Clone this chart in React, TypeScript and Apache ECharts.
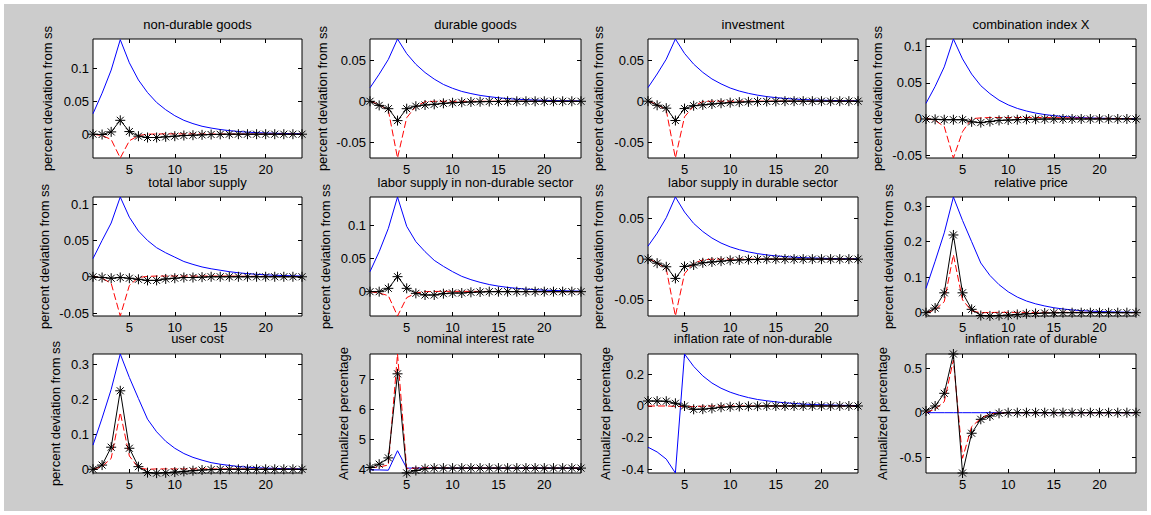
import React, { useEffect, useRef } from "react";
import * as echarts from "echarts";

// ---------- data ----------
const periods = [1, 2, 3, 4, 5, 6, 7, 8, 9, 10, 11, 12, 13, 14, 15, 16, 17, 18, 19, 20, 21, 22, 23, 24];
const xTicks = [5, 10, 15, 20];

const titles = [
  "non-durable goods", "durable goods", "investment", "combination index X",
  "total labor supply", "labor supply in non-durable sector", "labor supply in durable sector", "relative price",
  "user cost", "nominal interest rate", "inflation rate of non-durable", "inflation rate of durable",
];
const yLabels = [
  "percent deviation from ss", "percent deviation from ss", "percent deviation from ss", "percent deviation from ss",
  "percent deviation from ss", "percent deviation from ss", "percent deviation from ss", "percent deviation from ss",
  "percent deviation from ss", "Annualized percentage", "Annualized percentage", "Annualized percentage",
];
const yMins = [-0.036, -0.069, -0.069, -0.0539, -0.054, -0.0365, -0.07, -0.0093, -0.0106, 3.877, -0.4227, -0.675];
const yMaxs = [0.144, 0.0758, 0.0755, 0.1105, 0.1098, 0.142, 0.0765, 0.326, 0.329, 7.84, 0.328, 0.657];
const yTicks = [
  [0, 0.05, 0.1], [-0.05, 0, 0.05], [-0.05, 0, 0.05], [-0.05, 0, 0.05, 0.1],
  [-0.05, 0, 0.05, 0.1], [0, 0.05, 0.1], [-0.05, 0, 0.05], [0, 0.1, 0.2, 0.3],
  [0, 0.1, 0.2, 0.3], [4, 5, 6, 7], [-0.4, -0.2, 0, 0.2], [-0.5, 0, 0.5],
];

// non-durable goods
const nonDurBlue = [0.031, 0.062, 0.097, 0.143, 0.108, 0.082, 0.063, 0.048, 0.037, 0.028, 0.021, 0.016, 0.012, 0.0093, 0.0071, 0.0054, 0.0041, 0.0031, 0.0024, 0.0018, 0.0014, 0.0011, 0.0008, 0.0006];
const nonDurRed = [0, -0.002, -0.008, -0.036, -0.01, -0.002, 0, 0.0003, 0.0005, 0.0005, 0.0005, 0.0005, 0.0004, 0.0003, 0.0003, 0.0002, 0.0002, 0.0001, 0.0001, 0.0001, 0, 0, 0, 0];
const nonDurBlack = [0, -0.0005, 0.0035, 0.021, 0.004, -0.003, -0.005, -0.005, -0.004, -0.003, -0.002, -0.0015, -0.001, -0.0005, -0.0002, 0, 0, 0, 0, 0, 0, 0, 0, 0];
// durable goods
const durBlue = [0.0164, 0.033, 0.051, 0.0758, 0.058, 0.045, 0.035, 0.027, 0.0205, 0.0158, 0.012, 0.0094, 0.0072, 0.0056, 0.0043, 0.0033, 0.0025, 0.002, 0.0015, 0.0012, 0.0009, 0.0007, 0.0005, 0.0004];
const durRed = [0, -0.004, -0.011, -0.069, -0.02, -0.006, -0.0005, 0, 0, 0, 0, 0, 0, 0, 0, 0, 0, 0, 0, 0, 0, 0, 0, 0];
const durBlack = [0, -0.005, -0.009, -0.0235, -0.009, -0.006, -0.0045, -0.0037, -0.0025, -0.0018, -0.0012, -0.0008, -0.0005, -0.0003, -0.0002, 0, 0, 0, 0, 0, 0, 0, 0, 0];
// investment
const invBlue = [0.0165, 0.033, 0.051, 0.0755, 0.058, 0.045, 0.035, 0.027, 0.021, 0.016, 0.0123, 0.0095, 0.0073, 0.0056, 0.0043, 0.0033, 0.0026, 0.002, 0.0015, 0.0012, 0.0009, 0.0007, 0.0005, 0.0004];
const invRed = [0, -0.004, -0.011, -0.069, -0.019, -0.006, -0.0005, 0, 0, 0, 0, 0, 0, 0, 0, 0, 0, 0, 0, 0, 0, 0, 0, 0];
const invBlack = [0, -0.005, -0.0085, -0.0235, -0.009, -0.0055, -0.0045, -0.0035, -0.0025, -0.0018, -0.0012, -0.0008, -0.0005, -0.0003, -0.0002, 0, 0, 0, 0, 0, 0, 0, 0, 0];
// combination index X
const combBlue = [0.0216, 0.045, 0.072, 0.1105, 0.083, 0.062, 0.046, 0.035, 0.026, 0.0195, 0.0146, 0.011, 0.0082, 0.0061, 0.0046, 0.0034, 0.0026, 0.0019, 0.0014, 0.0011, 0.0008, 0.0006, 0.0005, 0.0003];
const combRed = [0.001, -0.002, -0.0105, -0.0539, -0.0175, 0.0005, 0.0015, 0.002, 0.002, 0.002, 0.002, 0.002, 0.002, 0.002, 0.0018, 0.0016, 0.0014, 0.0012, 0.001, 0.001, 0.0008, 0.0007, 0.0006, 0.0005];
const combBlack = [0, -0.0005, -0.001, -0.001, -0.001, -0.004, -0.005, -0.0035, -0.002, -0.0015, -0.001, -0.0005, -0.0003, -0.0001, 0, 0, 0, 0, 0, 0, 0, 0, 0, 0];
// total labor supply
const labBlue = [0.025, 0.05, 0.074, 0.1098, 0.082, 0.063, 0.05, 0.04, 0.033, 0.027, 0.021, 0.017, 0.0135, 0.011, 0.009, 0.007, 0.0055, 0.0043, 0.0034, 0.0027, 0.0021, 0.0017, 0.0013, 0.001];
const labRed = [0.001, -0.002, -0.009, -0.054, -0.012, -0.001, 0.0005, 0.001, 0.001, 0.001, 0.001, 0.001, 0.001, 0.001, 0.001, 0.001, 0.0008, 0.0007, 0.0006, 0.0005, 0.0004, 0.0003, 0.0003, 0.0002];
const labBlack = [0, -0.001, -0.002, -0.001, -0.002, -0.0035, -0.005, -0.005, -0.003, -0.002, -0.001, -0.001, -0.0005, 0, 0, 0, 0, 0, 0, 0, 0, 0, 0, 0];
// labor supply in non-durable sector
const labNdBlue = [0.03, 0.06, 0.095, 0.142, 0.098, 0.075, 0.06, 0.047, 0.038, 0.03, 0.023, 0.018, 0.014, 0.0107, 0.0083, 0.0064, 0.005, 0.0038, 0.003, 0.0023, 0.0018, 0.0014, 0.001, 0.0008];
const labNdRed = [0, -0.002, -0.006, -0.0365, -0.009, -0.002, 0, 0.0003, 0.0005, 0.0005, 0.0005, 0.0004, 0.0004, 0.0003, 0.0003, 0.0002, 0.0002, 0.0001, 0.0001, 0, 0, 0, 0, 0];
const labNdBlack = [0, 0, 0.005, 0.0225, 0.005, -0.0025, -0.005, -0.005, -0.003, -0.002, -0.002, -0.001, -0.0005, 0, 0, 0, 0, 0, 0, 0, 0, 0, 0, 0];
// labor supply in durable sector
const labDBlue = [0.016, 0.032, 0.051, 0.0765, 0.058, 0.044, 0.034, 0.026, 0.0198, 0.0151, 0.0116, 0.0089, 0.0068, 0.0052, 0.004, 0.0031, 0.0024, 0.0018, 0.0014, 0.0011, 0.0008, 0.0006, 0.0005, 0.0004];
const labDRed = [0, -0.004, -0.012, -0.07, -0.018, -0.005, -0.001, 0, 0, 0, 0, 0, 0, 0, 0, 0, 0, 0, 0, 0, 0, 0, 0, 0];
const labDBlack = [0, -0.005, -0.0094, -0.0237, -0.009, -0.0072, -0.0045, -0.0035, -0.0025, -0.0015, -0.001, -0.0006, -0.0003, 0, 0, 0, 0, 0, 0, 0, 0, 0, 0, 0];
// relative price
const relBlue = [0.0685, 0.145, 0.225, 0.326, 0.26, 0.2, 0.14, 0.105, 0.079, 0.059, 0.044, 0.033, 0.025, 0.019, 0.014, 0.0105, 0.0078, 0.0058, 0.0044, 0.0033, 0.0025, 0.0018, 0.0014, 0.001];
const relRed = [0, 0.008, 0.031, 0.163, 0.036, 0.005, 0, 0.0005, 0.001, 0.001, 0.001, 0.001, 0.001, 0.001, 0.001, 0.001, 0.001, 0.001, 0.0008, 0.0006, 0.0005, 0.0004, 0.0003, 0.0002];
const relBlack = [0, 0.013, 0.056, 0.219, 0.056, 0.0095, -0.008, -0.009, -0.008, -0.007, -0.005, -0.003, -0.002, -0.001, -0.0005, 0, 0, 0, 0, 0, 0, 0, 0, 0];
// user cost
const ucBlue = [0.069, 0.146, 0.228, 0.329, 0.262, 0.202, 0.143, 0.107, 0.08, 0.06, 0.045, 0.034, 0.026, 0.019, 0.0145, 0.011, 0.008, 0.006, 0.0045, 0.0034, 0.0026, 0.0019, 0.0014, 0.001];
const ucRed = [0, 0.008, 0.031, 0.162, 0.038, 0.004, 0, 0.001, 0.001, 0.001, 0.001, 0.001, 0.001, 0.001, 0.001, 0.001, 0.001, 0.0008, 0.0007, 0.0006, 0.0005, 0.0004, 0.0003, 0.0002];
const ucBlack = [0, 0.012, 0.063, 0.224, 0.06, 0.0075, -0.0095, -0.011, -0.01, -0.008, -0.006, -0.004, -0.002, -0.001, -0.0005, 0, 0, 0, 0, 0, 0, 0, 0, 0];
// nominal interest rate
const nirBlue = [3.98, 3.98, 3.97, 4.62, 4.04, 4.04, 4.04, 4.04, 4.04, 4.04, 4.04, 4.04, 4.04, 4.04, 4.04, 4.04, 4.04, 4.04, 4.04, 4.04, 4.04, 4.04, 4.04, 4.04];
const nirRed = [4.05, 4.08, 4.14, 7.84, 4.02, 4.04, 4.05, 4.05, 4.05, 4.04, 4.04, 4.04, 4.04, 4.04, 4.04, 4.04, 4.04, 4.04, 4.04, 4.04, 4.04, 4.04, 4.04, 4.04];
const nirBlack = [4.06, 4.17, 4.38, 7.18, 3.88, 3.96, 4.02, 4.04, 4.04, 4.04, 4.04, 4.04, 4.04, 4.04, 4.04, 4.04, 4.04, 4.04, 4.04, 4.04, 4.04, 4.04, 4.04, 4.04];
// inflation rate of non-durable
const infNdBlue = [-0.26, -0.29, -0.335, -0.4227, 0.328, 0.25, 0.19, 0.145, 0.112, 0.087, 0.068, 0.053, 0.041, 0.033, 0.026, 0.02, 0.016, 0.012, 0.0095, 0.0075, 0.006, 0.0045, 0.0035, 0.003];
const infNdRed = [0, 0, 0, -0.002, -0.005, -0.004, -0.001, 0, 0, 0, 0, 0, 0, 0, 0, 0, 0, 0, 0, 0, 0, 0, 0, 0];
const infNdBlack = [0.0315, 0.031, 0.03, 0.017, 0, -0.021, -0.02, -0.015, -0.008, -0.005, -0.003, -0.002, -0.001, 0, 0, 0, 0, 0, 0, 0, 0, 0, 0, 0];
// inflation rate of durable
const infDBlue = [0, 0, 0, 0, 0, 0, 0, 0, 0, 0, 0, 0, 0, 0, 0, 0, 0, 0, 0, 0, 0, 0, 0, 0];
const infDRed = [0, 0.04, 0.123, 0.59, -0.51, -0.156, -0.063, -0.015, -0.002, 0, 0, 0, 0, 0, 0, 0, 0, 0, 0, 0, 0, 0, 0, 0];
const infDBlack = [0.019, 0.075, 0.217, 0.657, -0.675, -0.23, -0.074, -0.037, -0.007, 0, 0, 0, 0, 0, 0, 0, 0, 0, 0, 0, 0, 0, 0, 0];

const blueSeries = [nonDurBlue, durBlue, invBlue, combBlue, labBlue, labNdBlue, labDBlue, relBlue, ucBlue, nirBlue, infNdBlue, infDBlue];
const redSeries = [nonDurRed, durRed, invRed, combRed, labRed, labNdRed, labDRed, relRed, ucRed, nirRed, infNdRed, infDRed];
const blackSeries = [nonDurBlack, durBlack, invBlack, combBlack, labBlack, labNdBlack, labDBlack, relBlack, ucBlack, nirBlack, infNdBlack, infDBlack];

// ---------- layout ----------
const colLefts = [93, 370, 648, 926];
const colWidths = [209, 211, 210, 210];
const rowTops = [39, 197, 354];
const plotH = 119;
const titleYs = [24, 182, 338];
const yLabelOffsets = [46, 48, 50, 49, 49, 45, 50, 38, 38, 27, 43, 44];

const FONT = "'Liberation Sans', Arial, Helvetica, sans-serif";
const ASTERISK = "path://M5,0L5,10M0,5L10,5M1.5,1.5L8.5,8.5M8.5,1.5L1.5,8.5";

function buildOption() {
  const grid: any[] = [];
  const xAxis: any[] = [];
  const yAxis: any[] = [];
  const series: any[] = [];
  const graphic: any[] = [];

  for (let i = 0; i < 12; i++) {
    const r = Math.floor(i / 4);
    const c = i % 4;
    const left = colLefts[c];
    const top = rowTops[r];
    const width = colWidths[c];
    grid.push({
      left, top, width, height: plotH, show: true,
      backgroundColor: "#ffffff", borderColor: "#000000", borderWidth: 1,
    });
    const tick = { show: true, inside: true, length: 4, lineStyle: { color: "#000", width: 1 } };
    const noLine = { show: false, onZero: false };
    xAxis.push({
      type: "value", gridIndex: i, min: 1, max: 24, position: "bottom",
      axisLine: noLine, splitLine: { show: false },
      axisTick: { ...tick, customValues: xTicks },
      axisLabel: { customValues: xTicks, color: "#000", fontSize: 13, fontFamily: FONT, margin: 5 },
    });
    xAxis.push({
      type: "value", gridIndex: i, min: 1, max: 24, position: "top",
      axisLine: noLine, splitLine: { show: false },
      axisTick: { ...tick, customValues: xTicks },
      axisLabel: { show: false },
    });
    yAxis.push({
      type: "value", gridIndex: i, min: yMins[i], max: yMaxs[i], position: "left",
      axisLine: noLine, splitLine: { show: false },
      axisTick: { ...tick, customValues: yTicks[i] },
      axisLabel: { customValues: yTicks[i], color: "#000", fontSize: 13, fontFamily: FONT, margin: 4 },
    });
    yAxis.push({
      type: "value", gridIndex: i, min: yMins[i], max: yMaxs[i], position: "right",
      axisLine: noLine, splitLine: { show: false },
      axisTick: { ...tick, customValues: yTicks[i] },
      axisLabel: { show: false },
    });
    const xi = 2 * i;
    const yi = 2 * i;
    series.push({
      type: "line", xAxisIndex: xi, yAxisIndex: yi,
      data: periods.map((p, k) => [p, blueSeries[i][k]]),
      symbol: "none", lineStyle: { color: "#0000ff", width: 1 }, z: 2,
    });
    series.push({
      type: "line", xAxisIndex: xi, yAxisIndex: yi,
      data: periods.map((p, k) => [p, redSeries[i][k]]),
      symbol: "none", lineStyle: { color: "#ff0000", width: 1, type: [7, 3] }, z: 3,
    });
    series.push({
      type: "line", xAxisIndex: xi, yAxisIndex: yi, clip: false,
      data: periods.map((p, k) => [p, blackSeries[i][k]]),
      symbol: ASTERISK, symbolSize: 10, showAllSymbol: true,
      itemStyle: { color: "rgba(0,0,0,0)", borderColor: "#000", borderWidth: 1 },
      lineStyle: { color: "#000", width: 1 }, z: 4,
    });
    graphic.push({
      type: "text", x: left + width / 2, y: titleYs[r], z: 10,
      style: { text: titles[i], fill: "#000", font: `13px ${FONT}`, align: "center", verticalAlign: "middle" },
    });
    graphic.push({
      type: "text", x: left - yLabelOffsets[i], y: top + plotH / 2, rotation: Math.PI / 2, z: 10,
      style: { text: yLabels[i], fill: "#000", font: `13px ${FONT}`, align: "center", verticalAlign: "middle" },
    });
  }

  return { animation: false, grid, xAxis, yAxis, series, graphic };
}

export default function App() {
  const ref = useRef<HTMLDivElement>(null);
  useEffect(() => {
    if (!ref.current) return;
    const chart = echarts.init(ref.current, undefined, { renderer: "svg" });
    chart.setOption(buildOption() as any);
    return () => chart.dispose();
  }, []);
  return (
    <div style={{ position: "fixed", left: 0, top: 0, width: 1151, height: 515, background: "#ffffff" }}>
      <div style={{ position: "absolute", left: 4, top: 4, width: 1143, height: 507, background: "#cccccc" }} />
      <div ref={ref} style={{ position: "absolute", left: 0, top: 0, width: 1151, height: 515 }} />
    </div>
  );
}
